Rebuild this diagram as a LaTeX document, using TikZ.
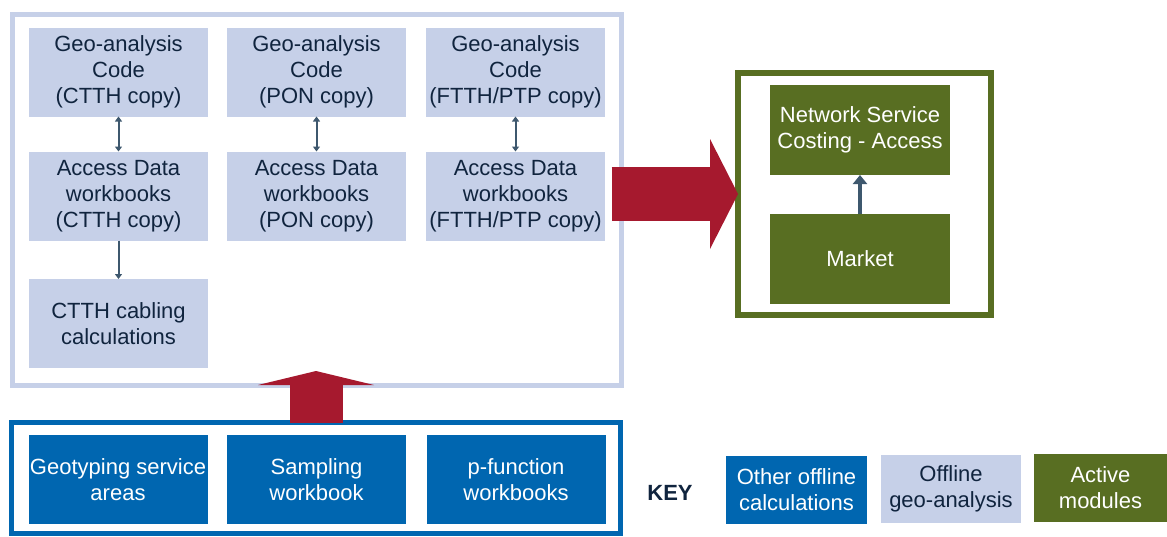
\documentclass[tikz,border=0pt]{standalone}
\usepackage{fontspec}
\setmainfont{Liberation Sans}
\usetikzlibrary{arrows.meta}
\definecolor{geoblue}{RGB}{198,208,232}
\definecolor{calcblue}{RGB}{0,102,176}
\definecolor{activegreen}{RGB}{88,110,34}
\definecolor{bigred}{RGB}{166,25,46}
\definecolor{linkgrey}{RGB}{62,88,110}
\definecolor{navy}{RGB}{16,36,62}
\begin{document}
\begin{tikzpicture}[x=1pt,y=-1pt,
    box/.style={minimum width=179pt,minimum height=89pt,inner sep=0pt,outer sep=0pt,
      align=center,font=\fontsize{22}{26}\selectfont},
    geobox/.style={box,fill=geoblue,text=navy},
    calcbox/.style={box,fill=calcblue,text=white},
    activebox/.style={box,fill=activegreen,text=white,minimum width=180pt,minimum height=90pt},
    frame/.style={inner sep=0pt,outer sep=0pt},
    link/.style={linkgrey,line width=2pt,>={Triangle[length=5pt,width=7pt]}},
    bigarrow/.style={bigred,line width=54pt,-{Triangle[length=28pt,width=110pt,line width=0pt]}}]
  \useasboundingbox (0,0) rectangle (1167,536);
  \node[frame,draw=geoblue,line width=5pt,minimum width=609pt,minimum height=371pt] (geoframe) at (317,200) {};
  \node[frame,draw=calcblue,line width=5pt,minimum width=609pt,minimum height=111pt] (calcframe) at (316,478) {};
  \node[frame,draw=activegreen,line width=6pt,minimum width=253pt,minimum height=242pt] (activeframe) at (864.5,194) {};
  \node[geobox] (geo1) at (118.5,72) {Geo-analysis\\Code\\(CTTH copy)};
  \node[geobox] (geo2) at (316.5,72) {Geo-analysis\\Code\\(PON copy)};
  \node[geobox] (geo3) at (515.5,72) {Geo-analysis\\Code\\(FTTH/PTP copy)};
  \node[geobox] (data1) at (118.5,196) {Access Data\\workbooks\\(CTTH copy)};
  \node[geobox] (data2) at (316.5,196) {Access Data\\workbooks\\(PON copy)};
  \node[geobox] (data3) at (515.5,196) {Access Data\\workbooks\\(FTTH/PTP copy)};
  \node[geobox] (cabling) at (118.5,323.5) {CTTH cabling\\calculations};
  \node[calcbox] (geotyping) at (118,479.5) {Geotyping service\\areas};
  \node[calcbox] (sampling) at (316.5,479.5) {Sampling\\workbook};
  \node[calcbox] (pfunction) at (516,479.5) {p-function\\workbooks};
  \node[activebox] (costing) at (860,130) {Network Service\\Costing - Access};
  \node[activebox] (market) at (860,259) {Market};
  \draw[link,<->] (geo1) -- (data1);
  \draw[link,<->] (geo2) -- (data2);
  \draw[link,<->] (geo3) -- (data3);
  \draw[link,->] (data1) -- (cabling);
  \draw[linkgrey,line width=4pt,-{Triangle[length=9pt,width=14pt]}] (market) -- (costing);
  \coordinate (redstart) at ([xshift=-10pt]geoframe.east);
  \draw[bigarrow] (redstart |- activeframe.west) -- (activeframe.west);
  \coordinate (redtip) at ([yshift=14.5pt]geoframe.south);
  \draw[bigarrow,line width=53pt,-{Triangle[length=14pt,width=116pt,line width=0pt]}] (calcframe.north) -- (redtip -| calcframe.north);
  \node[font=\fontsize{22}{26}\selectfont\bfseries,text=navy] (key) at (670,493) {KEY};
  \node[calcbox,minimum width=141pt,minimum height=68pt] (keycalc) at (796.5,490) {Other offline\\calculations};
  \node[geobox,minimum width=140pt,minimum height=68pt] (keygeo) at (951,489) {Offline\\geo-analysis};
  \node[activebox,minimum width=133pt,minimum height=68pt] (keyactive) at (1100.5,488) {Active\\modules};
\end{tikzpicture}
\end{document}
